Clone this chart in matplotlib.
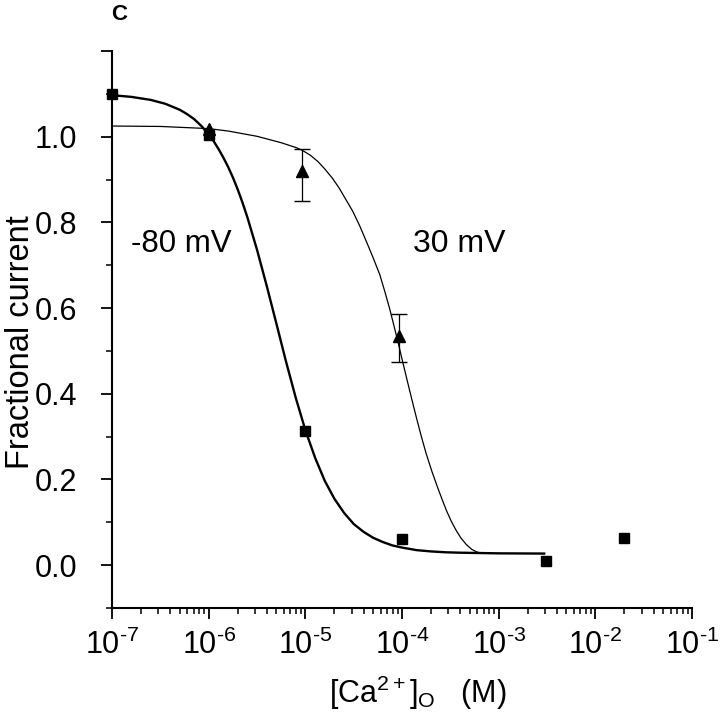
import numpy as np
import matplotlib
matplotlib.use("Agg")
import matplotlib.pyplot as plt
from matplotlib.ticker import NullFormatter, MultipleLocator, FixedLocator, LogLocator

plt.rcParams['font.family'] = ['Liberation Sans', 'DejaVu Sans']
plt.rcParams['mathtext.fontset'] = 'custom'
plt.rcParams['mathtext.rm'] = 'Liberation Sans'
plt.rcParams['mathtext.it'] = 'Liberation Sans:italic'
plt.rcParams['mathtext.bf'] = 'Liberation Sans:bold'

# -80 mV data (squares)
conc_m80 = [1e-7, 1e-6, 1e-5, 1e-4, 3.07e-3, 1.97e-2]
frac_m80 = [1.10, 1.003, 0.312, 0.062, 0.009, 0.063]

# 30 mV data (triangles, mean +/- error)
conc_p30 = [1e-6, 9.2e-6, 9.4e-5]
frac_p30 = [1.019, 0.919, 0.535]
err_lo_p30 = [0.0, 0.069, 0.062]
err_hi_p30 = [0.0, 0.052, 0.052]

# fitted curves (log10 of concentration, fraction)
fit_m80_logc = [-7.0, -6.8, -6.6, -6.45, -6.3, -6.225, -6.15, -6.075, -6.0, -5.95,
                -5.9, -5.85, -5.8, -5.75, -5.7, -5.65, -5.6, -5.5, -5.4, -5.3,
                -5.2, -5.1, -5.0, -4.9, -4.8, -4.7, -4.6, -4.5, -4.4, -4.3,
                -4.2, -4.1, -4.0, -3.85, -3.7, -3.55, -3.4, -3.0, -2.53]
fit_m80_y = [1.097, 1.093, 1.086, 1.077, 1.063, 1.053, 1.041, 1.025, 1.005, 0.990,
             0.972, 0.952, 0.930, 0.905, 0.877, 0.846, 0.812, 0.736, 0.652, 0.564,
             0.475, 0.391, 0.315, 0.251, 0.197, 0.155, 0.122, 0.096, 0.078, 0.064,
             0.054, 0.046, 0.041, 0.035, 0.032, 0.030, 0.029, 0.0275, 0.027]

fit_p30_logc = [-7.0, -6.5, -6.0, -5.79, -5.5, -5.25, -5.1, -5.03, -4.95, -4.87,
                -4.80, -4.72, -4.65, -4.58, -4.51, -4.44, -4.37, -4.30, -4.23, -4.18,
                -4.13, -4.085, -4.04, -3.995, -3.95, -3.90, -3.85, -3.80, -3.75, -3.69,
                -3.63, -3.585, -3.54, -3.49, -3.44, -3.39, -3.335, -3.28, -3.23, -3.18]
fit_p30_y = [1.025, 1.024, 1.019, 1.013, 1.001, 0.986, 0.975, 0.968, 0.957, 0.942,
             0.925, 0.903, 0.880, 0.853, 0.826, 0.793, 0.756, 0.718, 0.678, 0.640,
             0.600, 0.560, 0.519, 0.476, 0.434, 0.388, 0.343, 0.300, 0.260, 0.218,
             0.180, 0.153, 0.127, 0.102, 0.081, 0.063, 0.048, 0.037, 0.031, 0.028]

decades = [1e-7, 1e-6, 1e-5, 1e-4, 1e-3, 1e-2, 1e-1]
decade_labels = ["10$^{\u20107}$", "10$^{\u20106}$", "10$^{\u20105}$", "10$^{\u20104}$",
                 "10$^{\u20103}$", "10$^{\u20102}$", "10$^{\u20101}$"]
yticks = [0.0, 0.2, 0.4, 0.6, 0.8, 1.0, 1.2]
ytick_labels = ["0.0", "0.2", "0.4", "0.6", "0.8", "1.0", ""]

fig = plt.figure(figsize=(7.2, 7.14), dpi=100)
ax = fig.add_axes([0.1556, 0.1485, 0.8056, 0.780])

ax.plot(10 ** np.array(fit_m80_logc), fit_m80_y, color="black", linewidth=1.7, zorder=2)
ax.plot(10 ** np.array(fit_p30_logc), fit_p30_y, color="black", linewidth=0.9, zorder=2)

ax.plot(conc_m80, frac_m80, linestyle="none", marker="s", markersize=7,
        color="black", zorder=4, clip_on=False)
ax.errorbar(conc_p30[1:], frac_p30[1:], yerr=[err_lo_p30[1:], err_hi_p30[1:]],
            fmt="none", ecolor="black", elinewidth=0.9, capsize=6, capthick=1.0, zorder=3)
ax.plot(conc_p30, frac_p30, linestyle="none", marker="^", markersize=8,
        color="black", zorder=5)

ax.set_xscale("log")
ax.set_xlim(1e-7, 1e-1)
ax.set_ylim(-0.1, 1.2)

ax.spines["top"].set_visible(False)
ax.spines["right"].set_visible(False)
ax.spines["left"].set_linewidth(1.5)
ax.spines["bottom"].set_linewidth(1.5)

ax.xaxis.set_major_locator(FixedLocator(decades))
ax.xaxis.set_minor_locator(LogLocator(base=10, subs=np.arange(2, 10), numticks=20))
ax.xaxis.set_minor_formatter(NullFormatter())
ax.set_xticklabels(decade_labels)

ax.yaxis.set_major_locator(FixedLocator(yticks))
ax.set_yticklabels(ytick_labels)
ax.yaxis.set_minor_locator(MultipleLocator(0.1))

ax.tick_params(axis="both", which="major", direction="out", length=8, width=1.3, labelsize=22)
ax.tick_params(axis="both", which="minor", direction="out", length=4.5, width=1.1)
ax.tick_params(axis="y", which="major", pad=17)
ax.tick_params(axis="x", which="major", pad=8)

ax.set_ylabel("Fractional current", fontsize=23.5)
ax.yaxis.set_label_coords(-0.131, 0.478)
ax.set_xlabel(r"[Ca$^{2+}$]$_\mathregular{O}$   (M)", fontsize=22)
ax.xaxis.set_label_coords(0.527, -0.118)

ax.text(10 ** -6.80, 0.75, "-80 mV", fontsize=22.5, ha="left", va="center")
ax.text(10 ** -3.89, 0.75, "30 mV", fontsize=23, ha="left", va="center")

fig.text(111 / 720, 1 - 14 / 714, "C", fontsize=16, fontweight="heavy", ha="left", va="center")

fig.savefig("out.png", dpi=100)
